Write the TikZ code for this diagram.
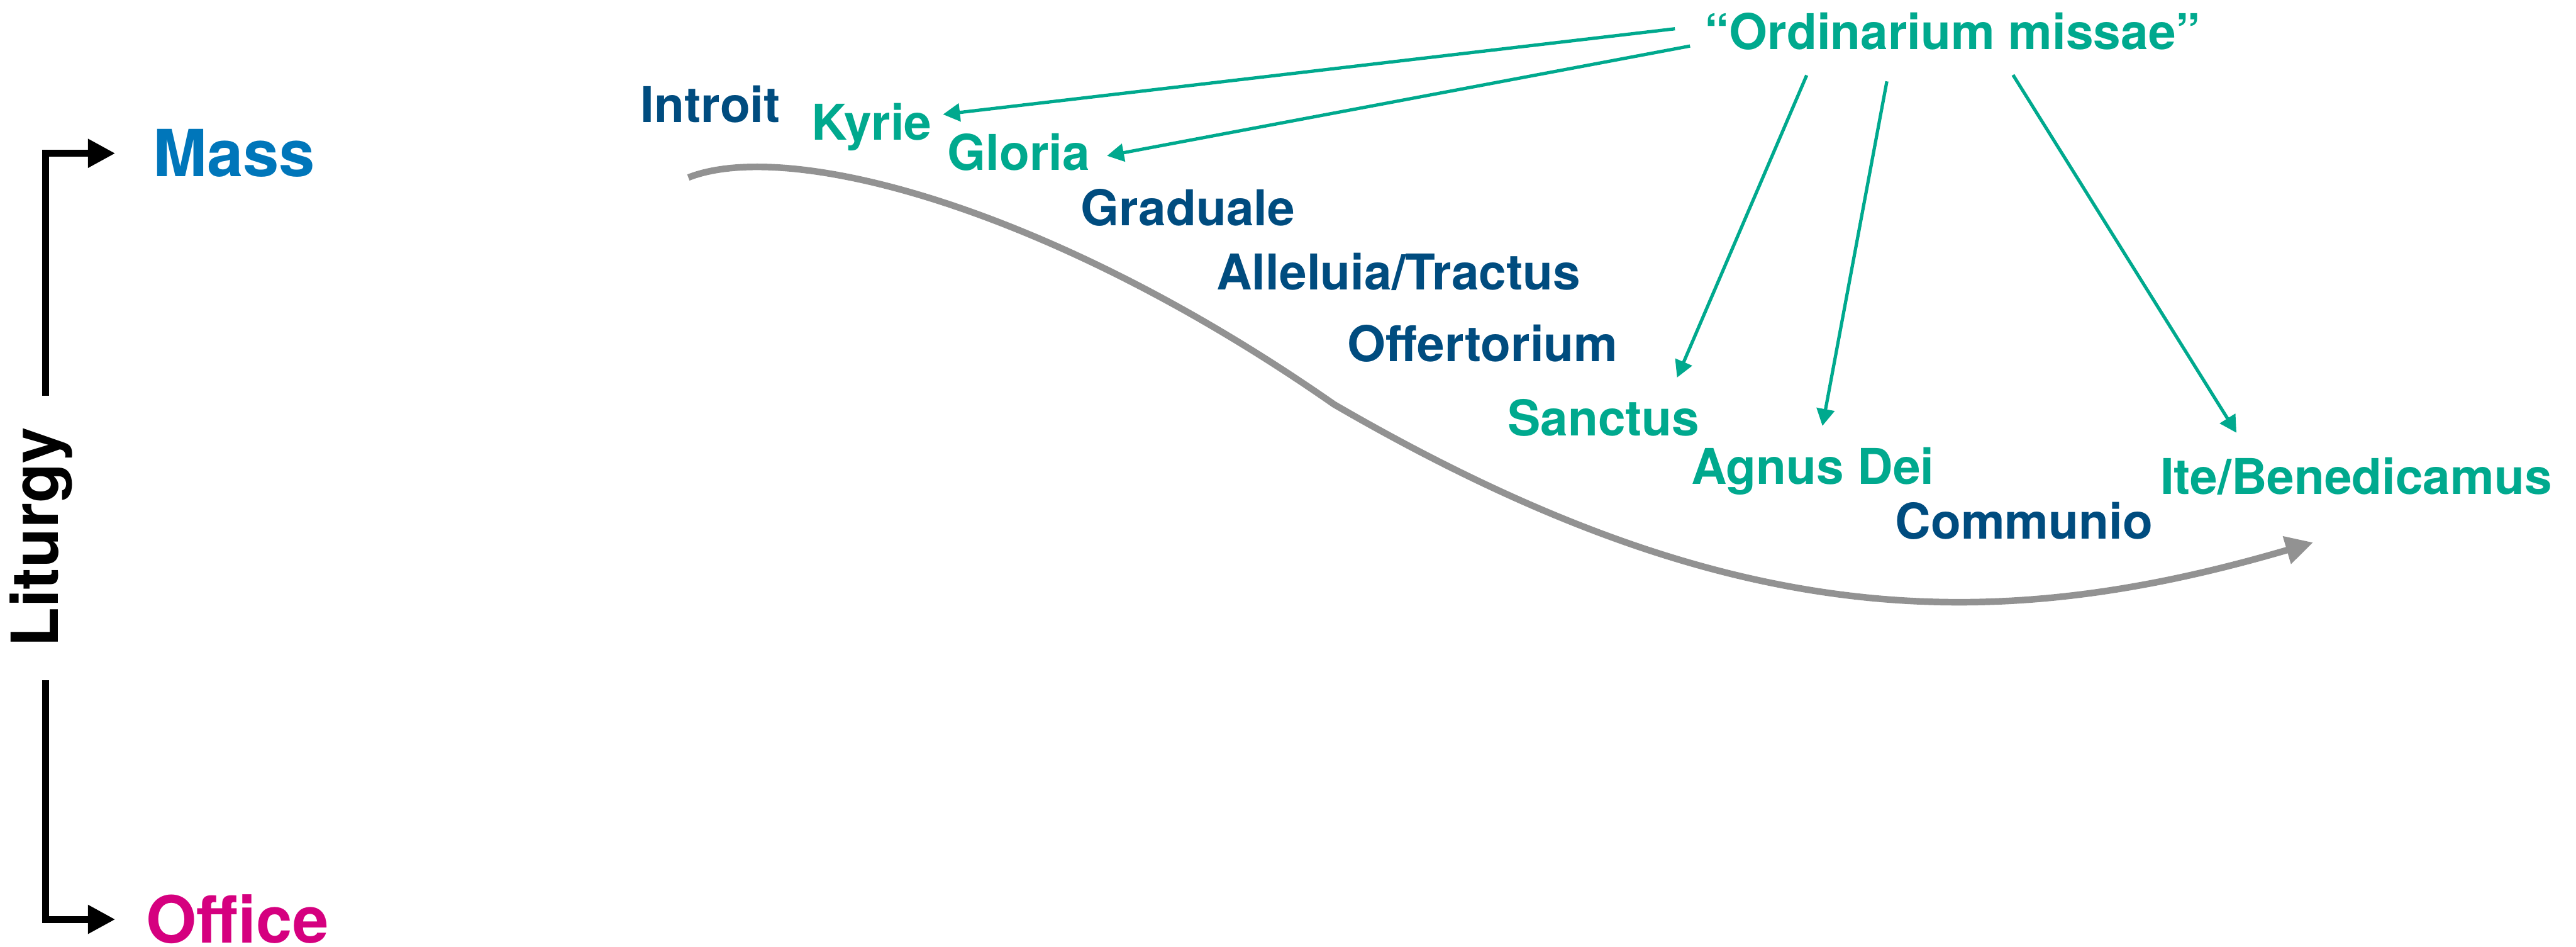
\documentclass[tikz,border=0pt]{standalone}
\usepackage{fontspec}
\setmainfont{TeX Gyre Heros}
\usetikzlibrary{arrows.meta}
\definecolor{massblue}{RGB}{0,118,186}
\definecolor{propblue}{RGB}{0,76,127}
\definecolor{ordgreen}{RGB}{0,169,142}
\definecolor{officemag}{RGB}{213,0,127}
\definecolor{flowgray}{RGB}{146,146,146}

\begin{document}
\begin{tikzpicture}[x=1pt,y=-1pt,
  lbl/.style={inner sep=0pt, outer sep=0pt, anchor=base west,
              font=\bfseries\fontsize{30}{36}\selectfont},
  big/.style={inner sep=0pt, outer sep=0pt, anchor=base west,
              font=\bfseries\fontsize{39.5}{46}\selectfont},
  proper/.style={lbl, text=propblue},
  ordinary/.style={lbl, text=ordgreen},
  bracket/.style={draw=black, line width=4.2pt,
                  -{Triangle[length=16.7pt,width=16.6pt]}},
  ordarrow/.style={draw=ordgreen, line width=2pt,
                   -{Triangle[length=10.3pt,width=10.8pt]}},
  flow/.style={draw=flowgray, line width=4pt,
               -{Triangle[length=16.7pt,width=16.6pt]}}
]
\useasboundingbox (0,0) rectangle (1568,576);

% left-hand branch: Liturgy -> Mass / Office
\node[big, text=massblue]  (mass)    at (93.1,107.5) {Mass};
\node[big, text=officemag] (office)  at (89,573.8)   {Office};
\node[big, text=black, rotate=90] (liturgy) at (35.4,393.9) {Liturgy};
\coordinate (litTop) at (27.9,240.8);
\coordinate (litBot) at (27.9,414);
\draw[bracket, shorten >=22.9pt] (litTop) |- (mass.west);
\draw[bracket, shorten >=18.8pt] (litBot) |- (office.west);

% chants of the Mass, in order
\node[proper]   (introit)   at (390,74.5)    {Introit};
\node[ordinary] (kyrie)     at (494,85.2)    {Kyrie};
\node[ordinary] (gloria)    at (576.7,103.4) {Gloria};
\node[proper]   (graduale)  at (658,137.2)   {Graduale};
\node[proper]   (alleluia)  at (740.5,176.3) {Alleluia/Tractus};
\node[proper]   (offert)    at (820.3,219.9) {Offertorium};
\node[ordinary] (sanctus)   at (917.8,265)   {Sanctus};
\node[ordinary] (agnus)     at (1029.5,294.4){Agnus Dei};
\node[proper]   (communio)  at (1153.7,327.8){Communio};
\node[ordinary] (ite)       at (1315,300.6)  {Ite/Benedicamus};
\node[ordinary] (ordin)     at (1037.6,30.2) {“Ordinarium missae”};

% arrows from the Ordinary to its chants
\coordinate (oKy) at (1019.5,17.5);   \coordinate (tKy) at (574,69.6);
\coordinate (oGl) at (1028.7,28);     \coordinate (tGl) at (673.8,94.8);
\coordinate (oSa) at (1099.7,45.8);   \coordinate (tSa) at (1020.8,229.7);
\coordinate (oAg) at (1148.5,49.5);   \coordinate (tAg) at (1109.3,259.1);
\coordinate (oIt) at (1225.3,45.6);   \coordinate (tIt) at (1361.3,263.3);
\draw[ordarrow] (oKy) -- (tKy);
\draw[ordarrow] (oGl) -- (tGl);
\draw[ordarrow] (oSa) -- (tSa);
\draw[ordarrow] (oAg) -- (tAg);
\draw[ordarrow] (oIt) -- (tIt);

% course of the service
\coordinate (flowStart) at (419,108);
\coordinate (flowBend)  at (812,246);
\coordinate (flowEnd)   at (1408,330);
\draw[flow] (flowStart) .. controls (480,84) and (640,126) .. (flowBend)
            .. controls (1050,384) and (1210,388) .. (flowEnd);
\end{tikzpicture}
\end{document}
